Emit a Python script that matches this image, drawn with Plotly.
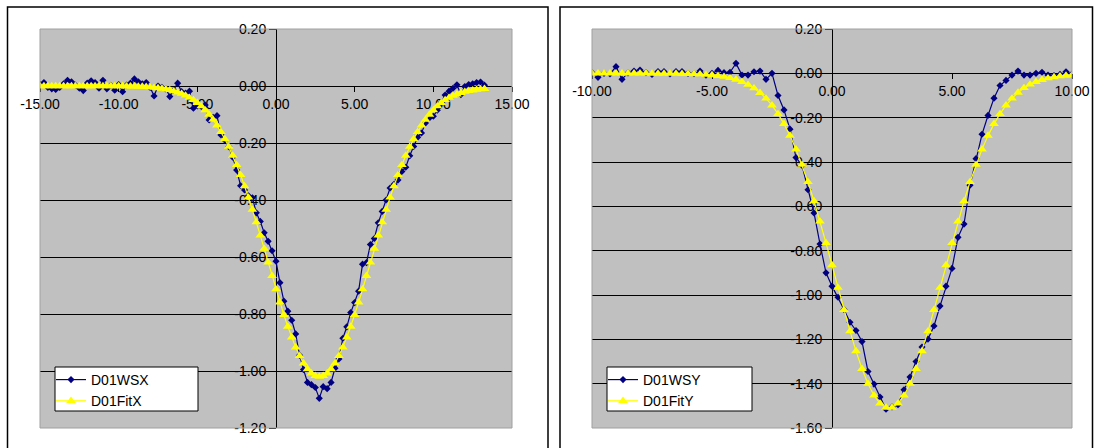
import plotly.graph_objects as go

W, H = 1095, 448

# ---------------- Left chart: D01WSX / D01FitX ----------------
x_left = [
    -15.00, -14.75, -14.50, -14.25, -14.00, -13.75, -13.50, -13.25, -13.00, -12.75,
    -12.50, -12.25, -12.00, -11.75, -11.50, -11.25, -11.00, -10.75, -10.50, -10.25,
    -10.00, -9.75, -9.50, -9.25, -9.00, -8.75, -8.50, -8.25, -8.00, -7.75,
    -7.50, -7.25, -7.00, -6.75, -6.50, -6.25, -6.00, -5.75, -5.50, -5.25,
    -5.00, -4.75, -4.50, -4.25, -4.00, -3.75, -3.50, -3.25, -3.00, -2.75,
    -2.50, -2.25, -2.00, -1.75, -1.50, -1.25, -1.00, -0.75, -0.50, -0.25,
    0.00, 0.25, 0.50, 0.75, 1.00, 1.25, 1.50, 1.75, 2.00, 2.25,
    2.50, 2.75, 3.00, 3.25, 3.50, 3.75, 4.00, 4.25, 4.50, 4.75,
    5.00, 5.25, 5.50, 5.75, 6.00, 6.25, 6.50, 6.75, 7.00, 7.25,
    7.50, 7.75, 8.00, 8.25, 8.50, 8.75, 9.00, 9.25, 9.50, 9.75,
    10.00, 10.25, 10.50, 10.75, 11.00, 11.25, 11.50, 11.75, 12.00, 12.25,
    12.50, 12.75, 13.00, 13.25,
]
wsx = [
    0.005, 0.012, -0.005, -0.010, -0.012, -0.005, 0.008, 0.020, 0.015, 0.003,
    -0.008, -0.016, 0.010, 0.018, 0.012, -0.008, 0.020, -0.010, 0.002, -0.015,
    0.005, -0.020, 0.003, 0.010, 0.025, 0.015, 0.008, 0.012, -0.005, -0.035,
    0.000, -0.005, -0.010, -0.037, -0.015, 0.010, -0.020, -0.025, -0.018, -0.078,
    -0.070, -0.072, -0.067, -0.119, -0.110, -0.104, -0.172, -0.190, -0.213, -0.250,
    -0.295, -0.350, -0.365, -0.385, -0.392, -0.445, -0.475, -0.515, -0.545, -0.578,
    -0.615, -0.690, -0.755, -0.790, -0.822, -0.870, -0.945, -0.995, -1.040, -1.048,
    -1.058, -1.096, -1.055, -1.062, -1.040, -0.990, -0.958, -0.885, -0.845, -0.795,
    -0.760, -0.720, -0.625, -0.620, -0.556, -0.535, -0.480, -0.440, -0.400, -0.358,
    -0.345, -0.330, -0.300, -0.285, -0.245, -0.212, -0.180, -0.165, -0.130, -0.112,
    -0.106, -0.085, -0.058, -0.032, -0.018, -0.008, 0.004, -0.030, -0.002, 0.005,
    0.008, 0.012, 0.014, 0.003,
]
fitx = [
    0.000, 0.000, 0.000, 0.000, 0.000, 0.000, 0.000, 0.000, 0.000, 0.000,
    0.000, 0.000, 0.000, 0.000, 0.000, 0.000, 0.000, 0.000, 0.000, 0.000,
    0.000, 0.000, -0.001, -0.001, -0.001, -0.002, -0.002, -0.003, -0.004, -0.006,
    -0.007, -0.009, -0.011, -0.014, -0.018, -0.022, -0.027, -0.033, -0.041, -0.049,
    -0.059, -0.071, -0.085, -0.100, -0.118, -0.138, -0.161, -0.186, -0.213, -0.244,
    -0.277, -0.312, -0.351, -0.391, -0.434, -0.478, -0.524, -0.571, -0.619, -0.666,
    -0.713, -0.759, -0.803, -0.844, -0.882, -0.917, -0.947, -0.973, -0.993, -1.008,
    -1.017, -1.020, -1.017, -1.008, -0.993, -0.973, -0.947, -0.917, -0.882, -0.844,
    -0.803, -0.759, -0.713, -0.666, -0.619, -0.571, -0.524, -0.478, -0.434, -0.391,
    -0.351, -0.312, -0.277, -0.244, -0.213, -0.186, -0.161, -0.138, -0.118, -0.100,
    -0.085, -0.071, -0.059, -0.049, -0.041, -0.034, -0.029, -0.024, -0.020, -0.017,
    -0.015, -0.013, -0.011, -0.010,
]

# ---------------- Right chart: D01WSY / D01FitY ----------------
x_right = [
    -10.00, -9.75, -9.50, -9.25, -9.00, -8.75, -8.50, -8.25, -8.00, -7.75,
    -7.50, -7.25, -7.00, -6.75, -6.50, -6.25, -6.00, -5.75, -5.50, -5.25,
    -5.00, -4.75, -4.50, -4.25, -4.00, -3.75, -3.50, -3.25, -3.00, -2.75,
    -2.50, -2.25, -2.00, -1.75, -1.50, -1.25, -1.00, -0.75, -0.50, -0.25,
    0.00, 0.25, 0.50, 0.75, 1.00, 1.25, 1.50, 1.75, 2.00, 2.25,
    2.50, 2.75, 3.00, 3.25, 3.50, 3.75, 4.00, 4.25, 4.50, 4.75,
    5.00, 5.25, 5.50, 5.75, 6.00, 6.25, 6.50, 6.75, 7.00, 7.25,
    7.50, 7.75, 8.00, 8.25, 8.50, 8.75, 9.00, 9.25, 9.50, 9.75,
    10.00,
]
wsy = [
    0.003, -0.018, 0.000, -0.003, 0.030, -0.027, 0.002, 0.010, 0.015, 0.003,
    -0.005, 0.008, 0.008, -0.003, 0.008, 0.008, 0.000, -0.002, 0.010, -0.008,
    0.000, 0.013, 0.003, 0.005, 0.045, -0.008, -0.008, 0.007, 0.010, -0.027,
    0.000, -0.100, -0.165, -0.252, -0.380, -0.415, -0.525, -0.630, -0.770, -0.900,
    -0.960, -1.010, -1.065, -1.123, -1.160, -1.210, -1.345, -1.402, -1.460, -1.515,
    -1.505, -1.495, -1.428, -1.370, -1.300, -1.235, -1.199, -1.140, -1.050, -0.960,
    -0.880, -0.740, -0.680, -0.505, -0.385, -0.275, -0.190, -0.112, -0.055, -0.032,
    -0.008, 0.010, -0.008, -0.008, 0.000, 0.005, -0.008, -0.010, -0.005, 0.007,
    -0.003,
]
fity = [
    0.000, 0.000, 0.000, 0.000, 0.000, 0.000, 0.000, 0.000, 0.000, 0.000,
    -0.001, -0.001, -0.001, -0.001, -0.001, -0.002, -0.002, -0.003, -0.004, -0.006,
    -0.008, -0.011, -0.015, -0.021, -0.028, -0.038, -0.051, -0.067, -0.088, -0.113,
    -0.144, -0.183, -0.228, -0.281, -0.343, -0.412, -0.490, -0.576, -0.668, -0.765,
    -0.865, -0.967, -1.067, -1.163, -1.253, -1.333, -1.400, -1.453, -1.489, -1.508,
    -1.508, -1.489, -1.453, -1.400, -1.333, -1.253, -1.163, -1.067, -0.967, -0.865,
    -0.765, -0.668, -0.576, -0.490, -0.412, -0.343, -0.281, -0.228, -0.183, -0.144,
    -0.113, -0.087, -0.066, -0.050, -0.038, -0.029, -0.022, -0.017, -0.013, -0.010,
    -0.008,
]

# ---------------- Tick labels ----------------
xl_tickvals = [-15, -10, -5, 0, 5, 10, 15]
xl_ticktext = ["-15.00", "-10.00", "-5.00", "0.00", "5.00", "10.00", "15.00"]
yl_tickvals = [0.2, 0.0, -0.2, -0.4, -0.6, -0.8, -1.0, -1.2]
yl_ticktext = ["0.20", "0.00", "-0.20", "-0.40", "-0.60", "-0.80", "-1.00", "-1.20"]
xr_tickvals = [-10, -5, 0, 5, 10]
xr_ticktext = ["-10.00", "-5.00", "0.00", "5.00", "10.00"]
yr_tickvals = [0.2, 0.0, -0.2, -0.4, -0.6, -0.8, -1.0, -1.2, -1.4, -1.6]
yr_ticktext = ["0.20", "0.00", "-0.20", "-0.40", "-0.60", "-0.80", "-1.00", "-1.20", "-1.40", "-1.60"]

FONT = "Liberation Sans, Arial, sans-serif"
NAVY = "#000080"
YELLOW = "#FFFF00"
FS = 14

# plot-area geometry (pixels)
L_X0, L_X1 = 40, 512
R_X0, R_X1 = 592, 1072
Y_TOP, Y_BOT = 29, 428

def px(v):
    return v / W

def py(v):
    return 1 - v / H

yd = [py(Y_BOT), py(Y_TOP)]
ld = [px(L_X0), px(L_X1)]
rd = [px(R_X0), px(R_X1)]

def frac(lo, hi, v):
    return (v - lo) / (hi - lo)

fig = go.Figure()

def add_pair(xs, meas, fit, n_meas, n_fit, xa, ya, lg):
    fig.add_trace(go.Scatter(x=xs, y=meas, name=n_meas, mode="lines+markers",
                             line=dict(color=NAVY, width=1.2),
                             marker=dict(symbol="diamond", size=5.5, color=NAVY),
                             xaxis=xa, yaxis=ya, legend=lg))
    fig.add_trace(go.Scatter(x=xs, y=fit, name=n_fit, mode="lines+markers",
                             line=dict(color=YELLOW, width=1.2),
                             marker=dict(symbol="triangle-up", size=8.5, color=YELLOW),
                             xaxis=xa, yaxis=ya, legend=lg))

add_pair(x_left, wsx, fitx, "D01WSX", "D01FitX", "x", "y", "legend")
add_pair(x_right, wsy, fity, "D01WSY", "D01FitY", "x2", "y2", "legend2")

tickfont = dict(family=FONT, size=FS, color="black")

def xaxis_cfg(domain, rng, tv, tt, ylo, yhi):
    return dict(domain=domain, range=rng, anchor="free",
                position=yd[0] + frac(ylo, yhi, 0) * (yd[1] - yd[0]),
                showline=True, linecolor="black", linewidth=1,
                ticks="outside", ticklen=5, tickcolor="black", tickwidth=1,
                tickvals=tv, ticktext=tt, tickfont=tickfont,
                showgrid=False, zeroline=False, layer="below traces",
                automargin=False, fixedrange=True)

def yaxis_cfg(rng, tv, tt, xdom, xlo, xhi):
    return dict(domain=yd, range=rng, anchor="free",
                position=xdom[0] + frac(xlo, xhi, 0) * (xdom[1] - xdom[0]),
                showline=True, linecolor="black", linewidth=1,
                ticks="outside", ticklen=7, tickcolor="black", tickwidth=1,
                tickvals=tv, ticktext=tt, tickfont=tickfont,
                showgrid=True, gridcolor="black", gridwidth=1,
                zeroline=False, layer="below traces",
                automargin=False, fixedrange=True)

legend_common = dict(bgcolor="rgba(0,0,0,0)", borderwidth=0,
                     font=dict(family=FONT, size=FS, color="black"),
                     xanchor="left", yanchor="top", orientation="v")

fig.update_layout(
    width=W, height=H, autosize=False,
    margin=dict(l=0, r=0, t=0, b=0, pad=0, autoexpand=False),
    paper_bgcolor="white", plot_bgcolor="#C0C0C0",
    xaxis=xaxis_cfg(ld, [-15, 15], xl_tickvals, xl_ticktext, -1.2, 0.2),
    yaxis=yaxis_cfg([-1.2, 0.2], yl_tickvals, yl_ticktext, ld, -15, 15),
    xaxis2=xaxis_cfg(rd, [-10, 10], xr_tickvals, xr_ticktext, -1.6, 0.2),
    yaxis2=yaxis_cfg([-1.6, 0.2], yr_tickvals, yr_ticktext, rd, -10, 10),
    legend=dict(x=px(51), y=py(364), **legend_common),
    legend2=dict(x=px(603), y=py(364), **legend_common),
    showlegend=True,
)

shapes = []
# outer chart frames
for x0, x1 in [(7.5, 548), (560, 1092.5)]:
    shapes.append(dict(type="rect", xref="paper", yref="paper",
                       x0=px(x0), x1=px(x1), y0=-0.05, y1=py(7),
                       line=dict(color="black", width=1.5), layer="below"))
# plot-area borders
for xr, yr in [("x domain", "y domain"), ("x2 domain", "y2 domain")]:
    shapes.append(dict(type="rect", xref=xr, yref=yr, x0=0, x1=1, y0=0, y1=1,
                       line=dict(color="#A0A0A0", width=1), layer="above"))
# legend boxes
for x0, x1 in [(55, 198), (607, 752)]:
    shapes.append(dict(type="rect", xref="paper", yref="paper",
                       x0=px(x0), x1=px(x1), y0=py(411), y1=py(367),
                       fillcolor="white", line=dict(color="black", width=1),
                       layer="above"))
fig.update_layout(shapes=shapes)

fig.write_html("out.html",
               config={"displayModeBar": False, "staticPlot": True},
               post_script="document.body.style.margin='0';document.body.style.overflow='hidden';")
